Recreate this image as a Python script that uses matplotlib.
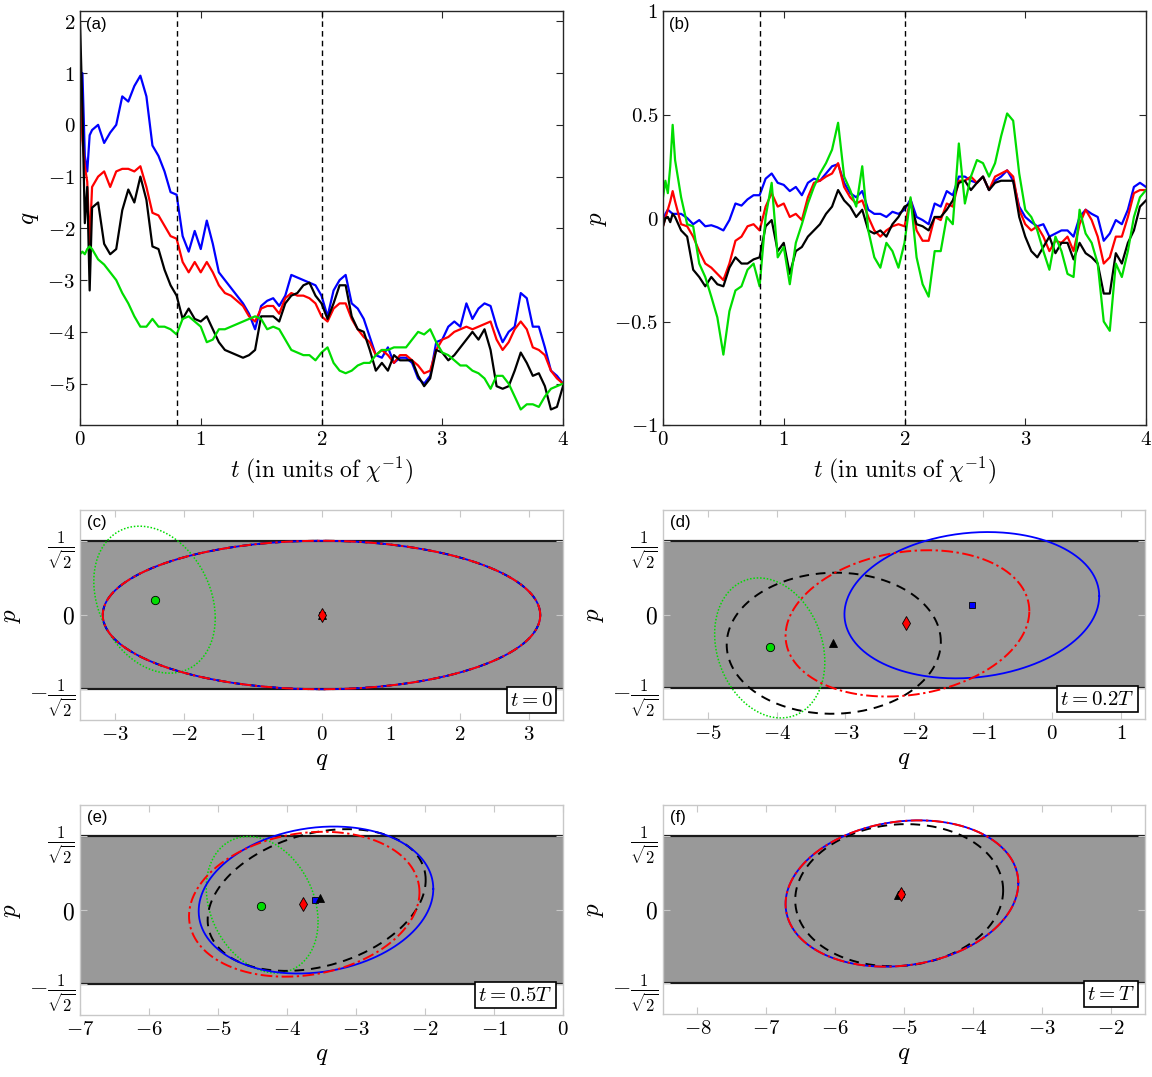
import numpy as np
import matplotlib.pyplot as plt
from matplotlib.ticker import FuncFormatter
from matplotlib.offsetbox import AnchoredText

plt.rcParams['mathtext.fontset'] = 'cm'
plt.rcParams['font.family'] = 'DejaVu Serif'

# ---------------------------------------------------------------- data (a), (b)
t_early = [0.0, 0.02, 0.04, 0.06, 0.08, 0.10]
t = np.concatenate([t_early, np.arange(0.15, 4.001, 0.05)])

q_blue = [0.3, 1.0, -0.6, -0.9, -0.2, -0.1,
          0.0, -0.35, -0.15, 0.0, 0.55, 0.45, 0.75, 0.95, 0.55, -0.4,
          -0.6, -0.9, -1.3, -1.35, -2.15, -2.45, -2.05, -2.4, -1.85, -2.3,
          -2.85, -3.0, -3.15, -3.3, -3.45, -3.65, -3.95, -3.5, -3.4, -3.35,
          -3.5, -3.3, -2.9, -2.95, -3.0, -3.05, -3.1, -3.3, -3.7, -3.2,
          -3.0, -2.9, -3.45, -3.55, -3.75, -4.1, -4.45, -4.5, -4.3, -4.6,
          -4.5, -4.5, -4.6, -4.9, -5.0, -4.85, -4.2, -4.15, -3.9, -3.8,
          -3.9, -3.45, -3.75, -3.55, -3.45, -3.5, -3.9, -4.2, -4.0, -3.9,
          -3.25, -3.35, -3.9, -3.9, -4.3, -4.75, -4.85, -5.0]
q_red = [1.0, -0.3, -0.8, -1.1, -2.3, -1.2,
         -1.0, -0.9, -1.2, -0.9, -0.85, -0.85, -0.9, -0.8, -1.2, -1.7,
         -1.75, -1.95, -2.15, -2.2, -2.65, -2.85, -2.65, -2.85, -2.65, -2.85,
         -3.1, -3.25, -3.3, -3.4, -3.5, -3.7, -3.8, -3.55, -3.5, -3.5,
         -3.65, -3.35, -3.25, -3.3, -3.3, -3.35, -3.45, -3.7, -3.8, -3.55,
         -3.45, -3.45, -3.75, -3.95, -4.1, -4.2, -4.45, -4.35, -4.45, -4.6,
         -4.45, -4.45, -4.55, -4.65, -4.8, -4.75, -4.35, -4.15, -4.1, -4.0,
         -3.95, -3.9, -3.95, -3.9, -3.85, -3.8, -4.15, -4.35, -4.2, -3.95,
         -3.8, -3.95, -4.3, -4.35, -4.45, -4.75, -4.9, -5.0]
q_black = [2.0, 0.3, -1.9, -1.2, -3.2, -1.6,
           -1.5, -2.3, -2.5, -2.4, -1.65, -1.25, -1.5, -1.0, -1.45, -2.35,
           -2.4, -2.8, -3.1, -3.3, -3.75, -3.55, -3.75, -3.8, -3.7, -3.95,
           -4.2, -4.35, -4.4, -4.45, -4.5, -4.45, -4.35, -3.7, -3.7, -3.7,
           -3.8, -3.45, -3.3, -3.25, -3.1, -3.05, -3.3, -3.45, -3.75, -3.45,
           -3.1, -3.1, -3.7, -3.95, -4.0, -4.35, -4.75, -4.6, -4.75, -4.45,
           -4.55, -4.55, -4.55, -4.85, -5.05, -4.9, -4.35, -4.4, -4.55, -4.45,
           -4.3, -4.15, -4.0, -4.15, -3.95, -4.35, -5.05, -5.1, -5.05, -4.75,
           -4.4, -4.6, -4.85, -4.8, -5.05, -5.5, -5.45, -5.05]
q_green = [-2.5, -2.45, -2.5, -2.4, -2.35, -2.4,
           -2.6, -2.7, -2.85, -3.0, -3.25, -3.45, -3.7, -3.9, -3.9, -3.75,
           -3.9, -3.9, -3.95, -4.05, -3.75, -3.7, -3.8, -3.9, -4.2, -4.15,
           -3.95, -3.95, -3.9, -3.85, -3.8, -3.75, -3.7, -3.75, -3.95, -3.9,
           -3.95, -4.15, -4.35, -4.4, -4.45, -4.45, -4.55, -4.4, -4.3, -4.6,
           -4.75, -4.8, -4.75, -4.65, -4.6, -4.6, -4.45, -4.35, -4.35, -4.3,
           -4.3, -4.3, -4.15, -4.0, -4.05, -3.95, -4.2, -4.4, -4.45, -4.55,
           -4.65, -4.65, -4.75, -4.8, -4.9, -5.1, -4.85, -4.85, -5.0, -5.25,
           -5.5, -5.4, -5.4, -5.45, -5.25, -5.1, -5.05, -5.0]

p_blue = [-0.03, 0.02, 0.04, 0.03, 0.02, 0.02,
          0.02, 0.0, -0.03, -0.01, -0.04, -0.035, -0.045, -0.06, -0.01, 0.07,
          0.06, 0.09, 0.11, 0.11, 0.19, 0.215, 0.17, 0.16, 0.13, 0.15,
          0.11, 0.17, 0.19, 0.18, 0.215, 0.25, 0.26, 0.17, 0.12, 0.1,
          0.13, 0.04, 0.02, 0.02, 0.005, 0.03, 0.02, 0.04, 0.09, 0.005,
          -0.01, -0.03, 0.07, 0.055, 0.13, 0.11, 0.2, 0.2, 0.18, 0.17,
          0.2, 0.135, 0.18, 0.2, 0.23, 0.18, 0.055, 0.005, -0.02, -0.04,
          -0.03, -0.09, -0.075, -0.06, -0.06, -0.09, 0.005, 0.04, 0.02, 0.005,
          -0.11, -0.075, -0.01, -0.03, 0.04, 0.15, 0.17, 0.15]
p_red = [-0.04, 0.0, 0.04, 0.08, 0.13, 0.08,
         -0.03, -0.04, -0.09, -0.16, -0.22, -0.24, -0.27, -0.3, -0.22, -0.11,
         -0.09, -0.04, -0.03, -0.06, 0.055, 0.12, 0.055, 0.07, 0.005, 0.02,
         -0.01, 0.1, 0.17, 0.18, 0.2, 0.215, 0.265, 0.15, 0.1, 0.07,
         0.085, 0.005, -0.06, -0.09, -0.06, -0.04, -0.03, -0.04, 0.09, -0.06,
         -0.11, -0.11, 0.005, -0.01, 0.07, 0.055, 0.18, 0.18, 0.2, 0.17,
         0.2, 0.135, 0.2, 0.215, 0.23, 0.2, 0.04, -0.03, -0.06, -0.04,
         -0.09, -0.16, -0.11, -0.12, -0.09, -0.16, -0.03, 0.04, -0.01, -0.09,
         -0.22, -0.19, -0.09, -0.09, 0.005, 0.12, 0.135, 0.135]
p_black = [-0.04, 0.0, 0.005, -0.02, 0.02, 0.005,
           -0.06, -0.09, -0.25, -0.285, -0.33, -0.285, -0.32, -0.33, -0.24, -0.19,
           -0.22, -0.22, -0.2, -0.19, -0.04, -0.01, -0.16, -0.12, -0.27, -0.16,
           -0.14, -0.09, -0.06, -0.03, 0.02, 0.055, 0.135, 0.085, 0.055, 0.005,
           0.04, -0.06, -0.075, -0.06, -0.09, -0.03, 0.005, 0.055, 0.07, -0.03,
           -0.04, -0.06, 0.005, 0.005, 0.04, 0.085, 0.17, 0.18, 0.135, 0.17,
           0.2, 0.135, 0.17, 0.18, 0.18, 0.18, 0.005, -0.09, -0.16, -0.19,
           -0.14, -0.09, -0.17, -0.12, -0.12, -0.2, -0.12, -0.17, -0.19, -0.22,
           -0.365, -0.365, -0.17, -0.22, -0.12, -0.06, 0.055, 0.085]
p_green = [0.1, 0.18, 0.12, 0.25, 0.45, 0.28,
           0.1, -0.03, -0.04, -0.22, -0.285, -0.38, -0.48, -0.66, -0.45, -0.35,
           -0.33, -0.25, -0.22, -0.33, 0.005, 0.17, -0.19, -0.14, -0.32, -0.12,
           -0.03, 0.07, 0.15, 0.215, 0.265, 0.33, 0.46, 0.2, 0.135, 0.055,
           0.25, -0.06, -0.19, -0.24, -0.12, -0.16, -0.24, -0.12, 0.1, -0.19,
           -0.32, -0.38, -0.16, -0.16, 0.005, -0.03, 0.36, 0.07, 0.2, 0.28,
           0.265, 0.2, 0.265, 0.395, 0.505, 0.47, 0.215, 0.04, 0.005, -0.06,
           -0.16, -0.25, -0.09, -0.16, -0.27, -0.285, 0.04, -0.075, -0.12, -0.22,
           -0.5, -0.545, -0.22, -0.285, -0.16, 0.005, 0.1, 0.135]

t_marks = [0.8, 2.0]

# ---------------------------------------------------------------- data (c)-(f)
# ellipse: [q centre, p centre, half width in q, half height in p, covariance qp]
ell_c = {'green': [-2.42, 0.146, 0.88, 0.70, -0.154],
         'black': [0.0, 0.0, 3.17, 0.707, 0.0],
         'blue':  [0.0, 0.0, 3.17, 0.707, 0.0],
         'red':   [0.0, 0.0, 3.17, 0.707, 0.0]}
ell_d = {'green': [-4.10, -0.32, 0.80, 0.67, -0.107],
         'black': [-3.17, -0.275, 1.555, 0.675, 0.02],
         'blue':  [-1.165, 0.089, 1.85, 0.70, 0.161],
         'red':   [-2.10, -0.085, 1.77, 0.70, 0.21]}
ell_e = {'green': [-4.36, 0.05, 0.81, 0.65, -0.13],
         'black': [-3.57, 0.095, 1.58, 0.675, 0.30],
         'blue':  [-3.58, 0.095, 1.70, 0.70, 0.18],
         'red':   [-3.75, 0.055, 1.67, 0.69, 0.19]}
ell_f = {'black': [-5.07, 0.137, 1.51, 0.68, 0.07],
         'blue':  [-5.03, 0.153, 1.69, 0.70, 0.17],
         'red':   [-5.03, 0.153, 1.69, 0.70, 0.17]}

mk_c = {'green': (-2.42, 0.146), 'blue': (0.0, 0.0), 'black': (0.0, 0.0), 'red': (0.0, 0.0)}
mk_d = {'green': (-4.10, -0.315), 'blue': (-1.165, 0.089), 'black': (-3.18, -0.27), 'red': (-2.115, -0.086)}
mk_e = {'green': (-4.37, 0.035), 'blue': (-3.59, 0.095), 'black': (-3.52, 0.11), 'red': (-3.77, 0.054)}
mk_f = {'blue': (-5.04, 0.153), 'black': (-5.09, 0.137), 'red': (-5.04, 0.153)}

xlims = {'c': (-3.5, 3.5), 'd': (-5.65, 1.35), 'e': (-7, 0), 'f': (-8.5, -1.5)}
xticks = {'c': range(-3, 4), 'd': range(-5, 2), 'e': range(-7, 1), 'f': range(-8, -1)}
times = {'c': '$t = 0$', 'd': '$t = 0.2T$', 'e': '$t = 0.5T$', 'f': '$t = T$'}

GREEN = '#00dd00'
colors = {'green': GREEN, 'black': 'k', 'blue': '#0000ff', 'red': '#ff0000'}
lstyle = {'green': dict(ls=(0, (1, 1.2)), lw=1.1), 'black': dict(ls=(0, (5, 3.5)), lw=1.4),
          'blue': dict(ls='-', lw=1.3), 'red': dict(ls=(0, (6, 1.8, 1.2, 1.8)), lw=1.4)}
mstyle = {'green': dict(marker='o', ms=6), 'blue': dict(marker='s', ms=5),
          'black': dict(marker='^', ms=6), 'red': dict(marker='d', ms=7)}

fs = 15
mfmt = FuncFormatter(lambda v, _: f'${v:g}$')


def style_axes(ax, spine_col):
    ax.tick_params(direction='in', top=True, right=True, length=5, width=0.8,
                   color=spine_col, labelsize=fs)
    for s in ax.spines.values():
        s.set_color(spine_col)
        s.set_linewidth(1.0)


def draw_ellipse(ax, e, **kw):
    cov = np.array([[e[2]**2, e[4]], [e[4], e[3]**2]])
    L = np.linalg.cholesky(cov)
    th = np.linspace(0, 2*np.pi, 400)
    pts = L @ np.vstack([np.cos(th), np.sin(th)])
    ax.plot(e[0] + pts[0], e[1] + pts[1], **kw)


fig = plt.figure(figsize=(11.52, 10.77), dpi=100)
W, H = 1152, 1077


def px_axes(l, r, top, bot):
    return fig.add_axes([l/W, 1 - bot/H, (r - l)/W, (bot - top)/H])


# ---------------------------------------------------------------- (a) and (b)
ax_a = px_axes(80, 563, 11, 425)
ax_b = px_axes(663, 1146, 11, 425)

for ax, ser, lab, ylim in [(ax_a, [q_blue, q_red, q_black, q_green], 'a', (-5.8, 2.2)),
                           (ax_b, [p_blue, p_red, p_black, p_green], 'b', (-1, 1))]:
    for y, c in zip(ser, ['#0000ff', '#ff0000', 'k', GREEN]):
        ax.plot(t, y, color=c, lw=1.6)
    for tm in t_marks:
        ax.axvline(tm, color='k', ls=(0, (4, 3)), lw=1.0)
    ax.set_xlim(0, 4)
    ax.set_ylim(*ylim)
    ax.set_xticks(range(0, 5))
    ax.xaxis.set_major_formatter(mfmt)
    ax.yaxis.set_major_formatter(mfmt)
    ax.set_xlabel(r'$t\ (\mathrm{in\ units\ of\ }\chi^{-1})$', fontsize=17, labelpad=4)
    style_axes(ax, '#262626')
    ax.text(0.012, 0.985, f'({lab})', transform=ax.transAxes, ha='left', va='top',
            fontsize=12, family='Liberation Sans')

ax_a.set_yticks(range(-5, 3))
ax_a.set_ylabel('$q$', fontsize=18)
ax_b.set_yticks([-1, -0.5, 0, 0.5, 1])
ax_b.set_ylabel('$p$', fontsize=18)

# ---------------------------------------------------------------- (c)-(f)
boxes = {'c': (80, 563, 510, 720), 'd': (663, 1145, 510, 719),
         'e': (80, 563, 805, 1015), 'f': (663, 1145, 805, 1014)}
ells = {'c': ell_c, 'd': ell_d, 'e': ell_e, 'f': ell_f}
mks = {'c': mk_c, 'd': mk_d, 'e': mk_e, 'f': mk_f}
edge = 1/np.sqrt(2)

for key in ['c', 'd', 'e', 'f']:
    ax = px_axes(*boxes[key])
    x0, x1 = xlims[key]
    ax.fill_between([x0, x1], -edge, edge, color='#999999', lw=0, zorder=0)
    ax.axhline(edge, color='#1a1a1a', lw=1.6, zorder=1)
    ax.axhline(-edge, color='#1a1a1a', lw=1.6, zorder=1)
    for name in ['green', 'black', 'blue', 'red']:
        if name in ells[key]:
            draw_ellipse(ax, ells[key][name], color=colors[name], zorder=2,
                         **lstyle[name])
    for name in ['green', 'blue', 'black', 'red']:
        if name in mks[key]:
            x, y = mks[key][name]
            ax.plot([x], [y], ls='none', mfc=colors[name], mec='k', mew=0.6,
                    zorder=3, **mstyle[name])
    ax.set_xlim(x0, x1)
    ax.set_ylim(-1, 1)
    ax.set_xticks(list(xticks[key]))
    ax.xaxis.set_major_formatter(mfmt)
    ax.set_yticks([-edge, 0, edge])
    ax.set_yticklabels([r'$-\frac{1}{\sqrt{2}}$', '$0$', r'$\frac{1}{\sqrt{2}}$'])
    ax.set_xlabel('$q$', fontsize=18, labelpad=4)
    ax.set_ylabel('$p$', fontsize=18)
    style_axes(ax, '#c8c8c8')
    ax.tick_params(axis='y', labelsize=17)
    ax.text(0.014, 0.975, f'({key})', transform=ax.transAxes, ha='left', va='top',
            fontsize=12, family='Liberation Sans')
    at = AnchoredText(times[key], loc='lower right', prop=dict(size=fs),
                      frameon=True, pad=0.15, borderpad=0.35)
    at.patch.set_edgecolor('k')
    at.patch.set_linewidth(1.2)
    at.zorder = 5
    ax.add_artist(at)

fig.savefig('out.png', dpi=100)
